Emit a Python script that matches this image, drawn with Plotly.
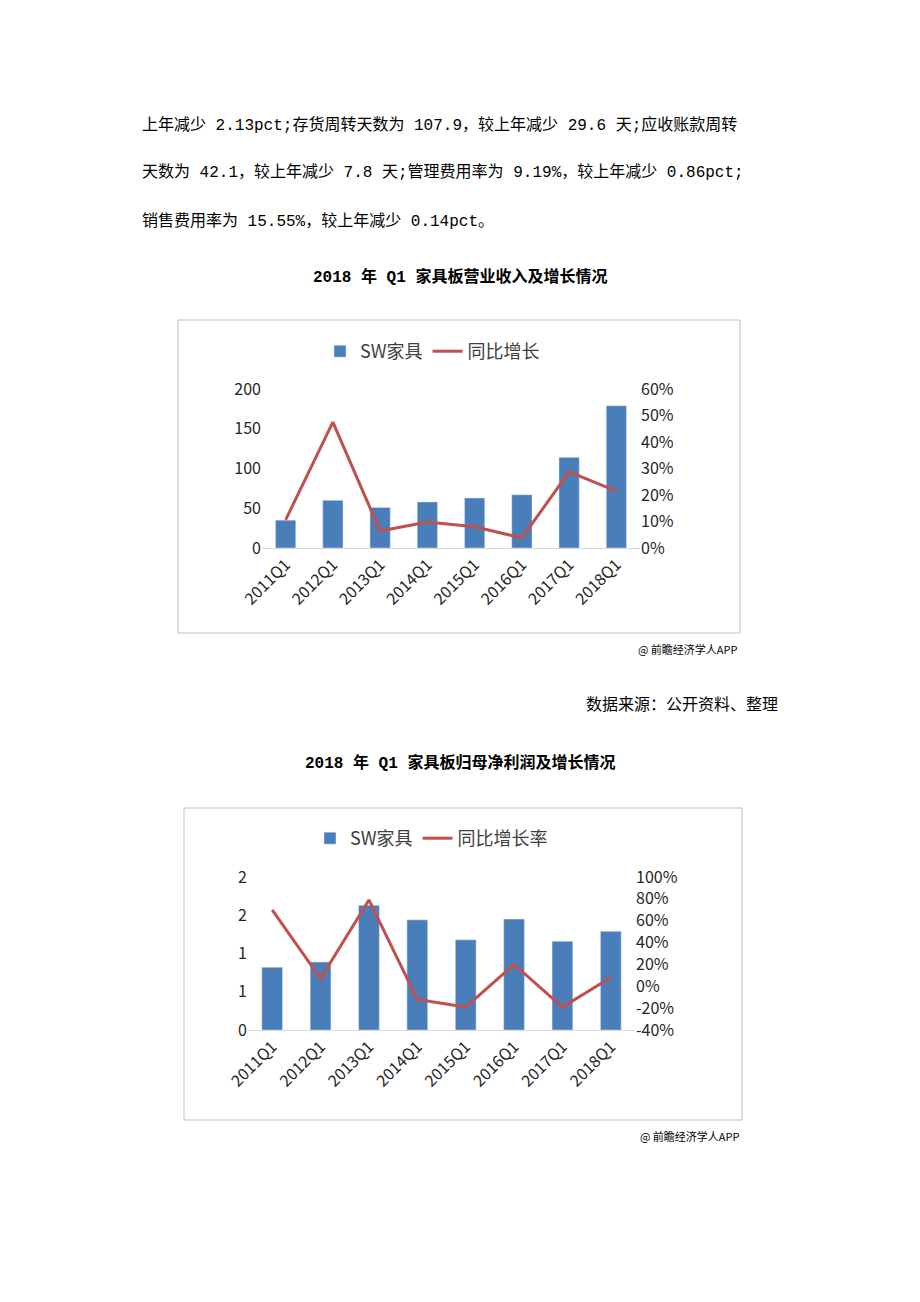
import plotly.graph_objects as go

cats = ["2011Q1","2012Q1","2013Q1","2014Q1","2015Q1","2016Q1","2017Q1","2018Q1"]
rev = [35, 60, 51, 58, 63, 67, 114, 179]
rev_growth = [10.6, 47.5, 6.4, 9.8, 8.0, 3.8, 28.7, 21.5]
profit = [0.82, 0.89, 1.63, 1.44, 1.18, 1.45, 1.16, 1.29]
profit_growth = [70, 7, 79, -12, -19, 20, -19, 8]
rev_ticks = [0, 50, 100, 150, 200]
pct1_ticks = [0, 10, 20, 30, 40, 50, 60]
profit_ticks = [0, 0.5, 1, 1.5, 2]
profit_labels = ["0", "1", "1", "2", "2"]
pct2_ticks = [-40, -20, 0, 20, 40, 60, 80, 100]

W, H = 920, 1302
def px(x): return x / W
def py(y): return 1 - y / H

blue = "#4a7ebb"; red = "#c0504d"
cjk = "Noto Sans CJK SC"
body = "Liberation Mono, Noto Sans CJK SC"
fig = go.Figure()
fig.add_bar(x=cats, y=rev, name="SW家具", marker_color=blue, width=0.43, xaxis="x", yaxis="y", legend="legend")
fig.add_scatter(x=cats, y=rev_growth, name="同比增长", mode="lines", line=dict(color=red, width=3), xaxis="x", yaxis="y2", legend="legend")
fig.add_bar(x=cats, y=profit, name="SW家具", marker_color=blue, width=0.43, xaxis="x3", yaxis="y3", legend="legend2")
fig.add_scatter(x=cats, y=profit_growth, name="同比增长率", mode="lines", line=dict(color=red, width=3), xaxis="x3", yaxis="y4", legend="legend2")

tf = dict(family=cjk, size=16, color="#262626")
xa = dict(tickangle=-45, tickfont=tf, showgrid=False, showline=True, linecolor="#d9d9d9", ticks="", automargin=False)
ya = dict(tickfont=tf, showgrid=False, zeroline=False, automargin=False)
fig.update_layout(
    width=W, height=H, margin=dict(l=0, r=0, t=0, b=0, autoexpand=False), paper_bgcolor="white", plot_bgcolor="white",
    xaxis=dict(domain=[px(262), px(640)], anchor="y", **xa),
    yaxis=dict(domain=[py(548), py(389)], range=[0, 200], tickvals=rev_ticks, **ya),
    yaxis2=dict(overlaying="y", side="right", range=[0, 60], tickvals=pct1_ticks, ticktext=[f"{v}%" for v in pct1_ticks], anchor="x", **ya),
    xaxis3=dict(domain=[px(248), px(635)], anchor="y3", **xa),
    yaxis3=dict(domain=[py(1030), py(877)], range=[0, 2], tickvals=profit_ticks, ticktext=profit_labels, anchor="x3", **ya),
    yaxis4=dict(overlaying="y3", side="right", range=[-40, 100], tickvals=pct2_ticks, ticktext=[f"{v}%" for v in pct2_ticks], anchor="x3", **ya),
    legend=dict(orientation="h", x=px(320), y=py(333), xanchor="left", yanchor="top", font=dict(family=cjk, size=18, color="#404040"), bgcolor="rgba(0,0,0,0)"),
    legend2=dict(orientation="h", x=px(310), y=py(820), xanchor="left", yanchor="top", font=dict(family=cjk, size=18, color="#404040"), bgcolor="rgba(0,0,0,0)"),
    showlegend=True,
)
fig.add_shape(type="rect", xref="paper", yref="paper", x0=px(178), x1=px(740), y0=py(633), y1=py(320), line=dict(color="#bfbfbf", width=1))
fig.add_shape(type="rect", xref="paper", yref="paper", x0=px(184), x1=px(742), y0=py(1120), y1=py(808), line=dict(color="#bfbfbf", width=1))

texts = [
    (140, 125, "上年减少 2.13pct;存货周转天数为 107.9，较上年减少 29.6 天;应收账款周转", "left", 16, False),
    (140, 173, "天数为 42.1，较上年减少 7.8 天;管理费用率为 9.19%，较上年减少 0.86pct;", "left", 16, False),
    (140, 221, "销售费用率为 15.55%，较上年减少 0.14pct。", "left", 16, False),
    (460, 277, "2018 年 Q1 家具板营业收入及增长情况", "center", 16, True),
    (780, 706, "数据来源：公开资料、整理", "right", 16, False),
    (460, 763, "2018 年 Q1 家具板归母净利润及增长情况", "center", 16, True),
    (740, 649, "@ 前瞻经济学人APP", "right", 11, False),
    (742, 1136, "@ 前瞻经济学人APP", "right", 11, False),
]
for x, y, t, a, s, b in texts:
    fam = cjk if s == 11 else body
    fig.add_annotation(x=px(x), y=py(y), xref="paper", yref="paper", text=f"<b>{t}</b>" if b else t,
                       showarrow=False, xanchor=a, yanchor="middle", font=dict(family=fam, size=s, color="black"))
fig.write_html("out.html", config={"displayModeBar": False})
with open("out.html", encoding="utf-8") as f:
    html = f.read()
html = html.replace("<body>", '<body style="margin:0;overflow:hidden">', 1)
with open("out.html", "w", encoding="utf-8") as f:
    f.write(html)
